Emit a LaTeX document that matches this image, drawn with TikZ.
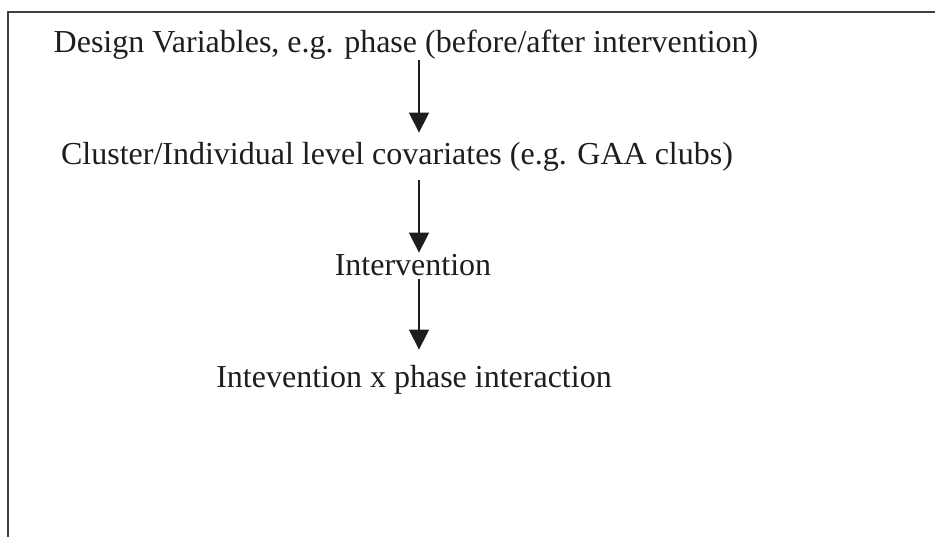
\documentclass[tikz,border=0pt]{standalone}
\usepackage{fontspec}
\setmainfont{Liberation Serif}
\usetikzlibrary{arrows.meta}
\definecolor{ink}{HTML}{1E1E1E}
\begin{document}
\begin{tikzpicture}[x=1pt,y=-1pt,
  lbl/.style={inner sep=0pt,anchor=base,text=ink,font=\fontsize{32}{36}\selectfont},
  arr/.style={draw=ink,line width=1.4pt,-{Triangle[width=20pt,length=20pt]}},
  frame/.style={draw=ink!85,line width=1.6pt}]
\useasboundingbox[fill=white] (0,0) rectangle (935,536);
\draw[frame] (8,540) -- (8,12) -- (940,12);
\node[lbl] (t1) at (406,52) {Design Variables, e.g. phase (before/after intervention)};
\node[lbl] (t2) at (397,164) {Cluster/Individual level covariates (e.g. GAA clubs)};
\node[lbl] (t3) at (413,275) {Intervention};
\node[lbl] (t4) at (414,387) {Intevention x phase interaction};
\coordinate (ax) at (419,0);
\draw[arr,shorten <=1pt,shorten >=9pt] (t1.south -| ax) -- (t2.north -| ax);
\draw[arr,shorten <=9pt,shorten >=1pt] (t2.south -| ax) -- (t3.north -| ax);
\draw[arr,shorten <=3pt,shorten >=15pt] (t3.south -| ax) -- (t4.north -| ax);
\end{tikzpicture}
\end{document}
